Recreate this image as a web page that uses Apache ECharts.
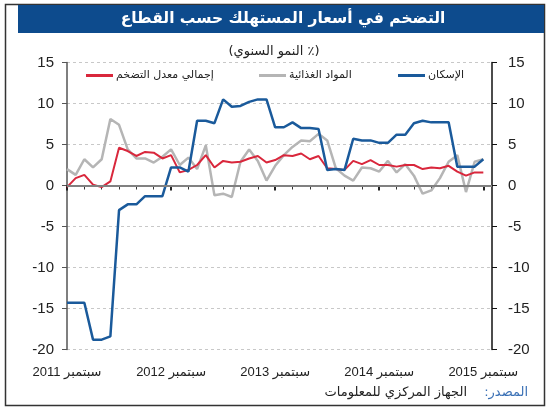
<!DOCTYPE html>
<html>
<head>
<meta charset="utf-8">
<script src="https://cdn.jsdelivr.net/npm/echarts@6/dist/echarts.min.js"></script>
<style>
  html, body { margin: 0; background: #fff; }
  #chart { width: 551px; height: 411px; }
</style>
</head>
<body>
<div id="chart"></div>
<script>
// أسماء الأشهر لبناء محور الفئات (سبتمبر 2011 حتى أكتوبر 2015)
var monthNames = ['يناير', 'فبراير', 'مارس', 'أبريل', 'مايو', 'يونيو', 'يوليو', 'أغسطس', 'سبتمبر', 'أكتوبر', 'نوفمبر', 'ديسمبر'];
var categories = [];
for (var k = 0; k < 50; k++) {
    var m = (8 + k) % 12;
    var y = 2011 + Math.floor((8 + k) / 12);
    categories.push(monthNames[m] + ' ' + y);
}

// القيم المقروءة من الرسم (٪)
var housing = [-14.3, -14.3, -14.3, -18.8, -18.8, -18.4, -3.0, -2.3, -2.3, -1.3, -1.3, -1.3,
    2.2, 2.2, 1.7, 7.9, 7.9, 7.6, 10.5, 9.6, 9.7, 10.2, 10.5, 10.5,
    7.1, 7.1, 7.7, 7.0, 7.0, 6.9, 1.9, 2.0, 1.9, 5.7, 5.5, 5.5,
    5.2, 5.2, 6.2, 6.2, 7.6, 7.9, 7.7, 7.7, 7.7, 2.3, 2.3, 2.3, 3.2];
var food = [2.0, 1.3, 3.2, 2.2, 3.2, 8.1, 7.4, 4.4, 3.3, 3.3, 2.8, 3.5,
    4.4, 2.5, 3.4, 2.0, 4.9, -1.2, -1.0, -1.4, 2.9, 4.4, 3.0, 0.6,
    2.4, 3.7, 4.7, 5.5, 5.4, 6.3, 5.5, 2.1, 1.2, 0.6, 2.2, 2.1,
    1.7, 3.0, 1.6, 2.6, 1.2, -1.0, -0.6, 0.9, 2.9, 3.7, -0.8, 2.9, 3.2];
var total = [-0.2, 0.9, 1.3, 0.1, -0.2, 0.5, 4.6, 4.2, 3.6, 4.1, 4.0, 3.3,
    3.7, 1.6, 1.9, 2.5, 3.7, 2.2, 3.0, 2.8, 2.9, 3.3, 3.6, 2.8,
    3.1, 3.7, 3.6, 3.9, 3.2, 3.6, 2.1, 2.0, 1.9, 3.0, 2.6, 3.1,
    2.5, 2.5, 2.3, 2.5, 2.5, 2.0, 2.2, 2.1, 2.4, 1.7, 1.2, 1.6, 1.6];

var seriesNames = ['إجمالي معدل التضخم', 'المواد الغذائية', 'الإسكان'];
var titleText = 'التضخم في أسعار المستهلك حسب القطاع';
var subtitleText = '(٪ النمو السنوي)';

// تضمين النص العربي المختلط باتجاه من اليمين لليسار
function rtl(s) {
    return '\u202B' + s + '\u202C';
}

// عنصر وسيلة إيضاح لكل سلسلة في موضعه
function legendItem(name, left) {
    return {
        data: [name],
        left: left,
        top: 70,
        padding: 0,
        icon: 'rect',
        itemWidth: 27,
        itemHeight: 3,
        itemGap: 0,
        textStyle: { fontSize: 11, color: '#222', fontFamily: 'DejaVu Sans', padding: [0, 0, 0, -2] }
    };
}

var chart = echarts.init(document.getElementById('chart'));

var option = {
    animation: false,
    textStyle: { fontFamily: 'Liberation Sans, DejaVu Sans' },
    graphic: [
        { type: 'rect', z: -10, shape: { x: 5.5, y: 4.5, width: 539, height: 401 }, style: { fill: 'none', stroke: '#333', lineWidth: 1.5 } },
        { type: 'rect', shape: { x: 18, y: 5, width: 526, height: 28 }, style: { fill: '#0d4b8d' } },
        { type: 'text', x: 283, y: 19, style: { text: titleText, fill: '#fff', fontSize: 15.5, fontWeight: 'bold', fontFamily: 'DejaVu Sans', align: 'center', verticalAlign: 'middle' } },
        { type: 'text', x: 274, y: 52, style: { text: rtl(subtitleText), fill: '#222', fontSize: 13, fontFamily: 'DejaVu Sans', align: 'center', verticalAlign: 'middle' } },
        { type: 'text', x: 528, y: 393, style: { text: rtl('المصدر:'), fill: '#3a70b5', fontSize: 13, fontFamily: 'DejaVu Sans', align: 'right', verticalAlign: 'middle' } },
        { type: 'text', x: 467, y: 393, style: { text: 'الجهاز المركزي للمعلومات', fill: '#222', fontSize: 13, fontFamily: 'DejaVu Sans', align: 'right', verticalAlign: 'middle' } }
    ],
    legend: [
        legendItem(seriesNames[0], 86),
        legendItem(seriesNames[1], 259),
        legendItem(seriesNames[2], 398)
    ],
    grid: { left: 67, right: 59, top: 62.5, bottom: 61.5 },
    xAxis: [{
        type: 'category',
        data: categories,
        boundaryGap: false,
        axisLine: { lineStyle: { color: '#222', width: 1.5 } },
        axisTick: { interval: function (i) { return i % 2 === 0; }, length: 4, lineStyle: { color: '#333' } },
        axisLabel: {
            interval: function (i) { return i % 12 === 0; },
            formatter: function (v) { return rtl(v); },
            fontSize: 13,
            color: '#222',
            margin: 16
        },
        splitLine: { show: false }
    }, {
        // علامات السنوات الأطول
        type: 'category',
        data: categories,
        boundaryGap: false,
        position: 'bottom',
        axisLine: { show: false },
        axisLabel: { show: false },
        axisTick: { interval: function (i) { return i % 12 === 0; }, length: 5, lineStyle: { color: '#222', width: 2 } },
        splitLine: { show: false }
    }],
    yAxis: [{
        type: 'value',
        min: -20,
        max: 15,
        interval: 5,
        position: 'left',
        axisLine: { show: true, lineStyle: { color: '#555', width: 1.5 } },
        axisTick: { show: true, length: 5, lineStyle: { color: '#555' } },
        axisLabel: { fontSize: 15, color: '#222', margin: 13 },
        splitLine: { lineStyle: { color: '#c8c8c8', type: [3, 3] } }
    }, {
        type: 'value',
        min: -20,
        max: 15,
        interval: 5,
        position: 'right',
        axisLine: { show: true, lineStyle: { color: '#111', width: 1.5 } },
        axisTick: { show: true, length: 5, lineStyle: { color: '#111' } },
        axisLabel: { fontSize: 15, color: '#222', margin: 16 },
        splitLine: { show: false }
    }],
    series: [{
        name: seriesNames[1],
        type: 'line',
        data: food,
        symbol: 'none',
        lineStyle: { color: '#b5b5b5', width: 2.5 },
        itemStyle: { color: '#b5b5b5' },
        markLine: {
            silent: true,
            symbol: 'none',
            label: { show: false },
            lineStyle: { color: '#808080', width: 2, type: 'solid' },
            data: [{ yAxis: 0 }]
        }
    }, {
        name: seriesNames[0],
        type: 'line',
        data: total,
        symbol: 'none',
        lineStyle: { color: '#d9273c', width: 2 },
        itemStyle: { color: '#d9273c' }
    }, {
        name: seriesNames[2],
        type: 'line',
        data: housing,
        symbol: 'none',
        lineStyle: { color: '#1a5a9b', width: 2.5 },
        itemStyle: { color: '#1a5a9b' }
    }]
};

chart.setOption(option);
</script>
</body>
</html>
